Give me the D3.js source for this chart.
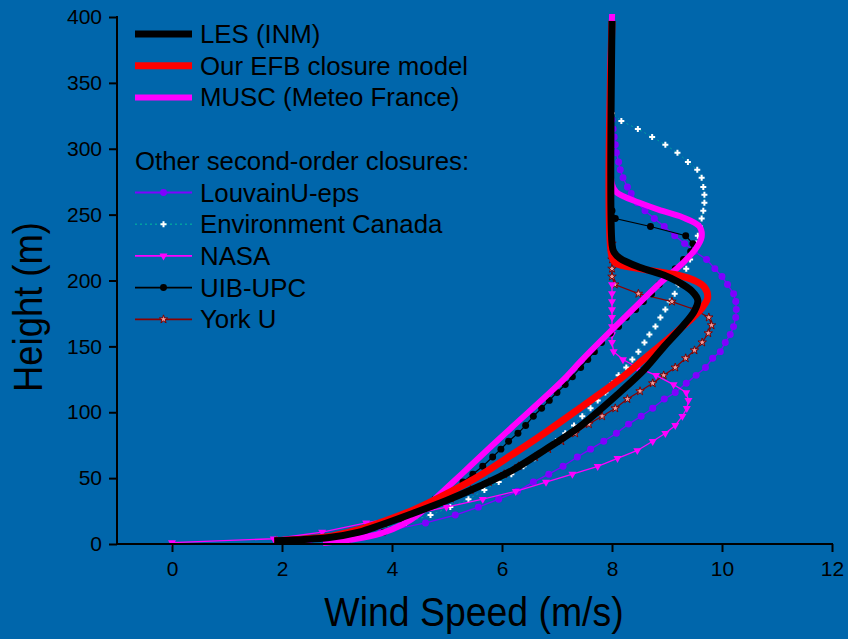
<!DOCTYPE html>
<html>
<head>
<meta charset="utf-8">
<script src="https://cdn.jsdelivr.net/npm/d3@7"></script>
<style>
  html, body { margin: 0; padding: 0; background: #0066ab; }
  svg { display: block; font-family: "Liberation Sans", Arial, sans-serif; }
</style>
</head>
<body>
<svg id="chart" width="848" height="639"></svg>
<script>
// Mean wind speed profiles: [wind speed (m/s), height (m)]
const lesProfile = [[1.86,2.5],[2.86,5],[3.4,9],[3.77,14],[4.3,22],[4.99,33],[5.6,44],[6.19,56],[6.8,72],[7.41,89],[8.14,115],[8.6,133],[8.95,150],[9.3,166],[9.5,177],[9.56,185],[9.45,192],[9.2,199],[8.95,204],[8.5,210],[8.14,217],[8.03,222],[8.0,228],[8.0,397]];
const efbProfile = [[1.86,2.5],[2.9,6],[3.4,11],[3.9,18],[4.4,26],[4.99,38],[5.6,52],[6.19,68],[6.8,85],[7.41,103],[8.14,125],[8.6,141],[8.86,150],[9.2,162],[9.47,172],[9.65,180],[9.74,187],[9.68,195],[9.5,200],[9.2,204],[8.5,209],[8.08,213],[8.0,218],[8.0,397]];
const muscProfile = [[2.8,1],[3.3,3.5],[3.8,8],[4.2,15],[4.5,23],[4.75,33],[5.29,54],[5.8,74],[6.19,89],[7.1,124],[7.46,140],[8.5,183],[8.9,199],[9.28,213],[9.52,224],[9.63,233],[9.59,241],[9.28,248],[8.9,253],[8.5,259],[8.08,267],[8.0,273],[8.0,400]];
const louvainProfile = [[2.5,3],[3.8,9],[4.61,16],[5.15,22],[5.57,28],[5.94,34],[6.28,40],[6.57,47],[6.85,53],[7.11,59],[7.37,66],[7.61,72],[7.85,78],[8.08,84],[8.3,91],[8.53,97],[8.74,103],[8.95,110],[9.15,115],[9.35,122],[9.53,128],[9.7,134],[9.83,141],[9.97,146],[10.06,153],[10.15,159],[10.21,165],[10.25,172],[10.26,178],[10.25,184],[10.21,190],[10.1,197],[10.0,203],[9.87,209],[9.72,216],[9.5,222],[9.32,228],[9.14,234],[8.95,241],[8.77,247],[8.6,253],[8.46,259],[8.35,266],[8.28,271],[8.2,278],[8.15,284],[8.12,290],[8.08,297],[8.06,303],[8.04,309],[8.02,315],[8.0,322]];
const canadaProfile = [[2.3,3],[3.45,9],[4.25,16],[4.7,22],[5.06,28],[5.39,34],[5.68,41],[5.94,47],[6.17,53],[6.39,59],[6.59,65],[6.8,72],[6.98,78],[7.15,84],[7.31,90],[7.46,97],[7.61,103],[7.74,109],[7.88,115],[8.01,122],[8.12,128],[8.26,134],[8.37,140],[8.48,146],[8.59,153],[8.68,159],[8.79,165],[8.88,172],[8.97,178],[9.05,184],[9.14,190],[9.21,197],[9.28,203],[9.35,209],[9.42,216],[9.48,222],[9.53,228],[9.56,234],[9.6,241],[9.63,247],[9.66,253],[9.68,259],[9.68,265],[9.66,271],[9.63,278],[9.55,284],[9.38,290],[9.19,297],[8.97,303],[8.73,309],[8.47,315],[8.17,321],[8.0,327]];
const nasaProfile = [[0,1],[1.85,4],[2.73,9],[3.53,16],[4.3,22],[4.99,28],[5.65,34],[6.25,40],[6.8,47],[7.28,53],[7.74,59],[8.1,65],[8.46,71],[8.74,78],[8.97,84],[9.15,90],[9.28,97],[9.36,103],[9.39,109],[9.35,115],[9.12,121],[8.8,128],[8.46,134],[8.2,140],[8.03,146],[8.0,153],[8.0,159],[8.0,165],[8.0,172],[8.0,178],[8.0,184],[8.0,190],[8.0,197]];
const uibProfile = [[3.2,3],[3.85,9],[4.2,16],[4.4,22],[4.62,28],[4.78,34],[5.08,40],[5.29,47],[5.47,53],[5.65,59],[5.83,66],[5.98,72],[6.12,78],[6.29,84],[6.43,90],[6.57,97],[6.72,103],[6.86,109],[7.0,115],[7.15,121],[7.28,127],[7.43,134],[7.56,140],[7.68,146],[7.81,153],[7.97,160],[8.12,165],[8.26,172],[8.43,178],[8.57,184],[8.72,190],[8.86,197],[9.01,203],[9.15,209],[9.3,216],[9.43,222],[9.47,228],[9.34,234],[8.7,241],[8.06,247],[8.0,253]];
const yorkProfile = [[1.9,2.5],[2.86,5],[3.42,9.5],[3.85,15.5],[4.3,22],[4.68,28],[5.07,34.5],[5.43,41],[5.76,47],[6.04,53],[6.3,59],[6.6,66],[6.84,72],[7.08,78],[7.33,84],[7.58,91],[7.82,97],[8.06,103],[8.28,110],[8.51,116],[8.74,122],[8.94,128],[9.15,134],[9.34,141],[9.5,147],[9.64,153],[9.75,160],[9.81,166],[9.76,172],[9.5,178],[9.09,184],[8.48,190],[8.05,197],[8.0,203],[8.0,209],[8.0,216],[8.0,222],[8.0,228]];

const legendMain = ["LES (INM)", "Our EFB closure model", "MUSC (Meteo France)"];
const legendHeading = "Other second-order closures:";
const legendOthers = ["LouvainU-eps", "Environment Canada", "NASA", "UIB-UPC", "York U"];

const xTicks = [0, 2, 4, 6, 8, 10, 12];
const xMinorTicks = [-1, 1, 3, 5, 7, 9, 11];
const yTicks = [0, 50, 100, 150, 200, 250, 300, 350, 400];
const yMinorTicks = [25, 75, 125, 175, 225, 275, 325, 375];

const xTitle = "Wind Speed (m/s)";
const yTitle = "Height (m)";

// ---- layout ----
const svg = d3.select("#chart");
const bg = "#0066ab";
svg.append("rect").attr("width", 848).attr("height", 639).attr("fill", bg);

const x = d3.scaleLinear().domain([-1, 12]).range([117, 832]);
const y = d3.scaleLinear().domain([0, 400]).range([544, 17]);

// ---- styles for each series ----
const thinSeries = [
  { data: canadaProfile, color: "#00a0a0", width: 1, dash: "2,3", symbol: d3.symbolCross, size: 20, fill: "#ffffff", stroke: "none", label: legendOthers[1] },
  { data: yorkProfile, color: "#8b0000", width: 1.2, dash: null, symbol: d3.symbolStar, size: 22, fill: "#f0a0a0", stroke: "#7a0000", label: legendOthers[4] },
  { data: louvainProfile, color: "#7f00ff", width: 1.3, dash: null, symbol: d3.symbolCircle, size: 38, fill: "#7f00ff", stroke: "none", label: legendOthers[0] },
  { data: nasaProfile, color: "#ff00ff", width: 1.3, dash: null, symbol: d3.symbolTriangle, size: 28, fill: "#ff00ff", stroke: "none", rotate: 180, label: legendOthers[2] },
  { data: uibProfile, color: "#000000", width: 1.2, dash: null, symbol: d3.symbolCircle, size: 38, fill: "#000000", stroke: "none", label: legendOthers[3] }
];
const thickSeries = [
  { data: muscProfile, color: "#ff00ff", width: 6, cap: "square", label: legendMain[2] },
  { data: efbProfile, color: "#ff0000", width: 7, cap: "butt", label: legendMain[1] },
  { data: lesProfile, color: "#000000", width: 7, cap: "butt", label: legendMain[0] }
];

const straight = d3.line().x(d => x(d[0])).y(d => y(d[1]));
const smooth = d3.line().x(d => x(d[0])).y(d => y(d[1])).curve(d3.curveCatmullRom.alpha(0.5));

const plot = svg.append("g");

thinSeries.forEach(s => {
  plot.append("path")
    .attr("d", straight(s.data))
    .attr("fill", "none")
    .attr("stroke", s.color)
    .attr("stroke-width", s.width)
    .attr("stroke-dasharray", s.dash);
  const sym = d3.symbol().type(s.symbol).size(s.size);
  plot.append("g").selectAll("path")
    .data(s.data)
    .join("path")
    .attr("d", sym)
    .attr("transform", d => `translate(${x(d[0])},${y(d[1])})${s.rotate ? ` rotate(${s.rotate})` : ""}`)
    .attr("fill", s.fill)
    .attr("stroke", s.stroke)
    .attr("stroke-width", 1);
});

thickSeries.forEach(s => {
  plot.append("path")
    .attr("d", smooth(s.data))
    .attr("fill", "none")
    .attr("stroke", s.color)
    .attr("stroke-width", s.width)
    .attr("stroke-linecap", s.cap)
    .attr("stroke-linejoin", "round");
});

// ---- axes ----
const axisFont = 21;
const gx = svg.append("g").attr("transform", `translate(0,${y(0)})`);
gx.call(d3.axisBottom(x).tickValues(xMinorTicks).tickSize(5).tickFormat("").tickSizeOuter(0));
gx.call(d3.axisBottom(x).tickValues(xTicks).tickSize(8).tickPadding(9).tickSizeOuter(0));
const gy = svg.append("g").attr("transform", `translate(${x(-1)},0)`);
gy.call(d3.axisLeft(y).tickValues(yMinorTicks).tickSize(5).tickFormat("").tickSizeOuter(0));
gy.call(d3.axisLeft(y).tickValues(yTicks).tickSize(8).tickPadding(7).tickSizeOuter(0));

[gx, gy].forEach(g => {
  g.selectAll(".domain").attr("stroke", "#000").attr("stroke-width", 2);
  g.selectAll(".tick line").attr("stroke", "#000").attr("stroke-width", 2);
  g.selectAll(".tick text")
    .attr("fill", "#000")
    .attr("font-size", axisFont)
    .attr("font-family", "Liberation Sans, Arial, sans-serif");
});
gx.selectAll(".domain").attr("d", `M${x(-1) - 1},0H${x(12) + 1}`);
gy.selectAll(".domain").attr("d", `M0,${y(0) + 1}V${y(400) - 1}`);

// axis titles, slightly condensed along the text direction
svg.append("text")
  .attr("transform", "translate(474,626) scale(0.935,1)")
  .attr("text-anchor", "middle")
  .attr("font-size", 40)
  .attr("fill", "#000")
  .text(xTitle);

svg.append("text")
  .attr("transform", "translate(42,307) rotate(-90) scale(0.91,1)")
  .attr("text-anchor", "middle")
  .attr("font-size", 40)
  .attr("fill", "#000")
  .text(yTitle);

// ---- legend ----
const legend = svg.append("g");
const lx0 = 135, lx1 = 192, tx = 200, legendFont = 25.8;
const rowY = i => 34 + i * 31.7;

thickSeries.slice().reverse().forEach((s, i) => {
  legend.append("line")
    .attr("x1", lx0).attr("x2", lx1)
    .attr("y1", rowY(i)).attr("y2", rowY(i))
    .attr("stroke", s.color)
    .attr("stroke-width", s.width);
  legend.append("text")
    .attr("x", tx).attr("y", rowY(i))
    .attr("dy", "0.35em")
    .attr("font-size", legendFont)
    .attr("fill", "#000")
    .text(s.label);
});

legend.append("text")
  .attr("x", lx0).attr("y", rowY(4))
  .attr("dy", "0.35em")
  .attr("font-size", legendFont)
  .attr("fill", "#000")
  .text(legendHeading);

legendOthers.forEach((label, i) => {
  const s = thinSeries.find(t => t.label === label);
  const ry = rowY(5 + i);
  legend.append("line")
    .attr("x1", lx0).attr("x2", lx1)
    .attr("y1", ry).attr("y2", ry)
    .attr("stroke", s.color)
    .attr("stroke-width", s.width + 0.5)
    .attr("stroke-dasharray", s.dash);
  legend.append("path")
    .attr("d", d3.symbol().type(s.symbol).size(s.size)())
    .attr("transform", `translate(${(lx0 + lx1) / 2},${ry})${s.rotate ? ` rotate(${s.rotate})` : ""}`)
    .attr("fill", s.fill)
    .attr("stroke", s.stroke);
  legend.append("text")
    .attr("x", tx).attr("y", ry)
    .attr("dy", "0.35em")
    .attr("font-size", legendFont)
    .attr("fill", "#000")
    .text(label);
});
</script>
</body>
</html>
